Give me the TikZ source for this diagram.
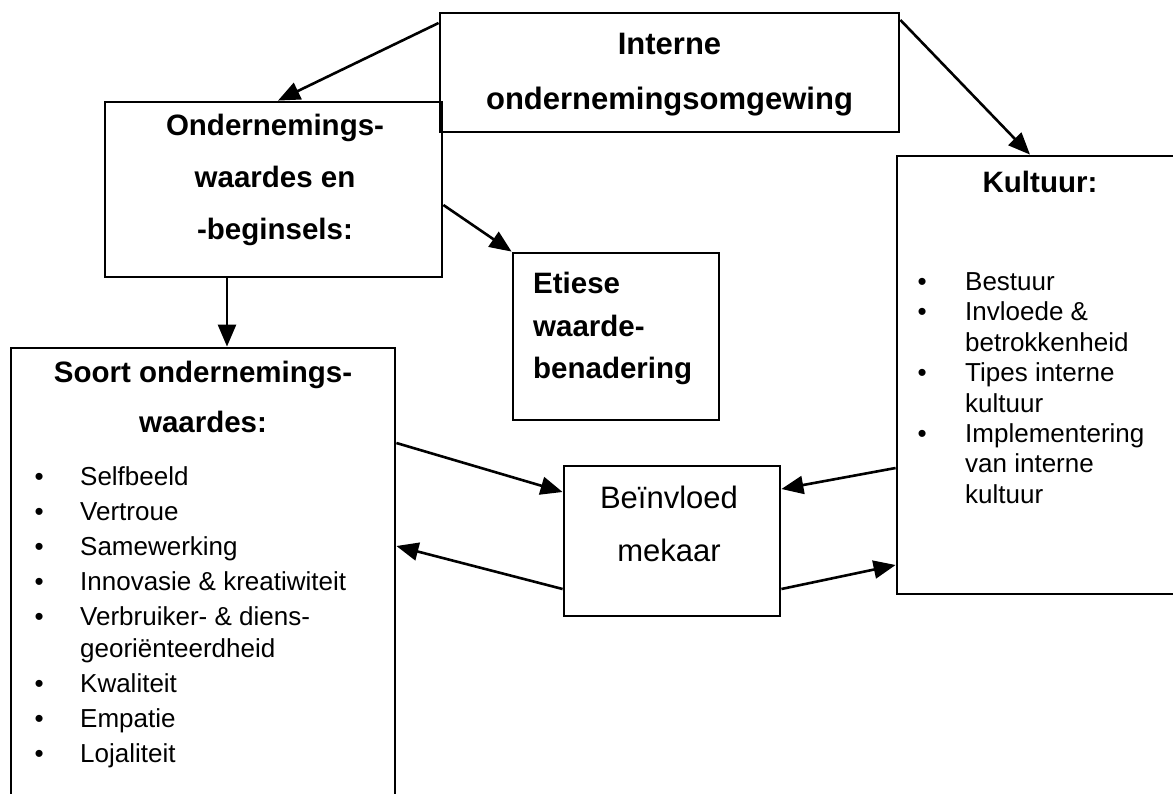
\documentclass[tikz,border=0pt]{standalone}
\usepackage{fontspec}
\setmainfont{Liberation Sans}
\usetikzlibrary{arrows.meta}
\tikzset{
  boxframe/.style={draw,line width=2.8pt,inner sep=0pt},
  headtext/.style={font=\bfseries\fontsize{29.5}{#1}\selectfont,align=center,inner sep=0pt,anchor=north},
  listtext/.style={font=\fontsize{26}{#1}\selectfont,inner sep=0pt,anchor=north west},
  link/.style={line width=2.6pt,-{Triangle[length=22pt,width=18pt]}}
}

\begin{document}
\begin{tikzpicture}[x=1pt,y=-1pt]
\useasboundingbox (0,0) rectangle (1173,793);
% boxes
\node[boxframe,minimum width=459pt,minimum height=119pt](intern)at(669.5,72.5){};
\node[boxframe,minimum width=337pt,minimum height=175pt](onder)at(273.5,189.5){};
\node[boxframe,minimum width=206pt,minimum height=167pt](eties)at(616,336.5){};
\node[boxframe,minimum width=288pt,minimum height=438pt](kult)at(1041,375){};
\node[boxframe,minimum width=384pt,minimum height=462pt](soort)at(203,579){};
\node[boxframe,minimum width=216pt,minimum height=150pt](beinv)at(672,541){};
% texts
\node[headtext=55,font=\bfseries\fontsize{31}{55}\selectfont](internT)at(669.5,33){Interne\\ondernemingsomgewing};
\node[headtext=52](onderT)at(275,114){Ondernemings-\\waardes en\\-beginsels:};
\node[headtext=42.5,align=left,anchor=north west](etiesT)at(533,272){Etiese\\waarde-\\benadering};
\node[headtext=36](kultT)at(1040,171){Kultuur:};
\node[headtext=50](soortT)at(203,361){Soort ondernemings-\\waardes:};
\node[font=\fontsize{31}{53}\selectfont,align=center,inner sep=0pt,anchor=north](beinvT)at(669,486){Beïnvloed\\mekaar};
% lists
\node[listtext=30.4](kultL)at(917.5,269){\begin{tabular}{@{}p{47.5pt}@{}l@{}}
\textbullet & Bestuur\\
\textbullet & Invloede \&\\
 & betrokkenheid\\
\textbullet & Tipes interne\\
 & kultuur\\
\textbullet & Implementering\\
 & van interne\\
 & kultuur
\end{tabular}};
\node[listtext=35](soortL)at(34.5,460.5){\begin{tabular}{@{}p{45.5pt}@{}l@{}}
\textbullet & Selfbeeld\\
\textbullet & Vertroue\\
\textbullet & Samewerking\\
\textbullet & Innovasie \& kreatiwiteit\\
\textbullet & Verbruiker- \& diens-\\[-3pt]
 & georiënteerdheid\\
\textbullet & Kwaliteit\\
\textbullet & Empatie\\
\textbullet & Lojaliteit
\end{tabular}};
% arrows
\draw[link](intern.west |- 0,23)--(onder.north -| 278,0);
\draw[link](intern.east |- 0,20)--(kult.north -| 1030,0);
\draw[link](onder.east |- 0,205)--(eties.north west);
\draw[link](onder.south -| 227,0)--(soort.north -| 227,0);
\draw[link](soort.east |- 0,443)--(beinv.west |- 0,492);
\draw[link](beinv.west |- 0,589)--(soort.east |- 0,546);
\draw[link](kult.west |- 0,468)--(beinv.east |- 0,489);
\draw[link](beinv.east |- 0,589)--(kult.west |- 0,565);
\end{tikzpicture}
\end{document}
